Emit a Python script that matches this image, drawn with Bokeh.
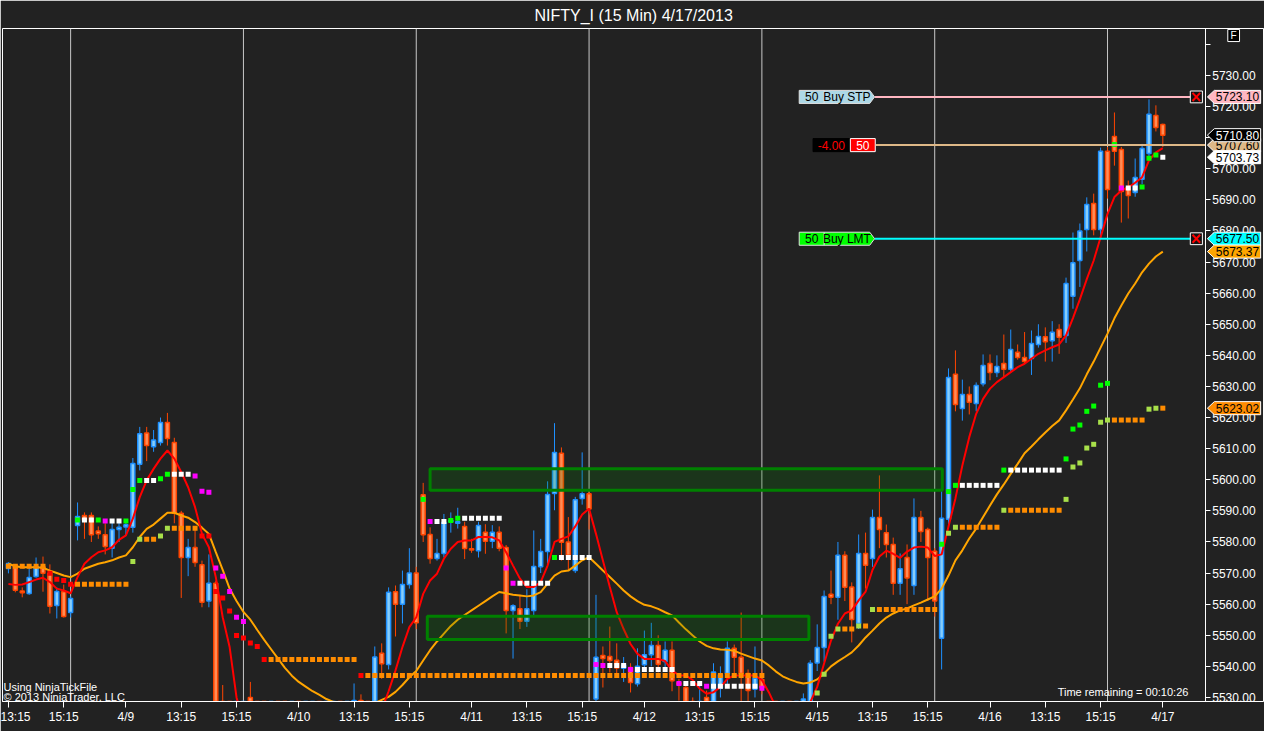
from bokeh.plotting import figure
from bokeh.models import Range1d, FixedTicker, NumeralTickFormatter, Span, Label, ColumnDataSource
from bokeh.embed import file_html
from bokeh.resources import INLINE
from bokeh.core.properties import value

TITLE = "NIFTY_I (15 Min)  4/17/2013"

# ---------------- data: 15-minute bars, 4/8 13:15 ... 4/17 11:15 ----------------
OPEN = [5571.5, 5572.4, 5564.2, 5563.4, 5568.9, 5572.0, 5569.9, 5559.6, 5564.0, 5557.3,
        5585.3, 5588.5, 5588.5, 5583.5, 5582.3, 5578.0, 5584.0, 5584.8, 5584.7, 5605.0,
        5615.0, 5610.6, 5612.0, 5618.4, 5612.0, 5589.2, 5575.0, 5578.2, 5572.7, 5561.0,
        5566.7, 5514.0, 5510.0, 5506.0, 5514.0, 5530.0, 5524.0, 5515.0, 5511.0, 5516.0,
        5513.0, 5509.0, 5512.0, 5510.0, 5514.0, 5518.0, 5515.0, 5517.0, 5520.0, 5516.0,
        5521.0, 5529.0, 5524.0, 5519.0, 5544.2, 5540.6, 5564.0, 5560.0, 5566.3, 5570.0,
        5595.2, 5582.4, 5574.7, 5576.3, 5586.5, 5586.0, 5585.0, 5577.8, 5577.2, 5583.1,
        5580.2, 5583.1, 5578.2, 5558.0, 5558.5, 5554.5, 5558.0, 5572.0, 5576.9, 5595.6,
        5608.5, 5580.0, 5570.8, 5594.0, 5595.5, 5529.5, 5543.5, 5543.2, 5542.0, 5539.4,
        5539.6, 5534.4, 5540.5, 5543.7, 5546.7, 5541.6, 5545.2, 5534.8, 5533.2, 5527.5,
        5518.0, 5530.0, 5526.0, 5533.0, 5537.7, 5545.8, 5542.9, 5537.7, 5532.6, 5535.8,
        5524.0, 5514.0, 5510.0, 5515.0, 5512.0, 5522.0, 5527.0, 5541.1, 5546.1, 5563.2,
        5562.2, 5575.7, 5565.5, 5553.8, 5576.3, 5574.7, 5587.9, 5583.0, 5579.2, 5566.7,
        5575.0, 5566.0, 5587.9, 5584.0, 5577.0, 5549.0, 5587.3, 5633.9, 5622.9, 5627.4,
        5624.5, 5630.9, 5637.4, 5634.5, 5637.4, 5635.5, 5641.0, 5639.3, 5639.0, 5643.5,
        5646.0, 5644.7, 5648.3, 5646.4, 5659.0, 5670.5, 5680.5, 5688.8, 5680.5, 5705.6,
        5710.4, 5706.2, 5694.0, 5692.4, 5696.6, 5704.9, 5717.1, 5714.2]
HIGH = [5573.5, 5572.8, 5565.4, 5571.8, 5575.0, 5575.3, 5572.8, 5565.4, 5566.3, 5562.5,
        5592.7, 5589.5, 5589.5, 5585.0, 5586.0, 5587.0, 5587.0, 5587.0, 5607.0, 5617.0,
        5617.0, 5616.0, 5620.0, 5621.5, 5613.5, 5590.0, 5581.0, 5584.0, 5574.0, 5576.0,
        5567.5, 5534.0, 5518.0, 5520.0, 5522.0, 5535.0, 5526.0, 5520.0, 5518.0, 5522.0,
        5519.0, 5515.0, 5518.0, 5516.0, 5521.0, 5524.0, 5520.0, 5523.0, 5525.0, 5524.0,
        5534.5, 5531.0, 5526.0, 5546.4, 5547.4, 5565.4, 5566.0, 5570.8, 5578.0, 5572.0,
        5599.0, 5584.7, 5581.0, 5589.0, 5589.5, 5591.0, 5586.5, 5581.0, 5586.5, 5585.7,
        5585.4, 5585.0, 5579.0, 5560.0, 5563.0, 5564.8, 5583.7, 5581.0, 5599.5, 5618.2,
        5610.4, 5588.0, 5594.5, 5608.8, 5597.0, 5563.0, 5546.4, 5552.8, 5547.4, 5543.0,
        5541.0, 5545.8, 5551.5, 5554.0, 5550.0, 5548.0, 5548.0, 5536.0, 5535.0, 5530.0,
        5534.0, 5532.2, 5541.0, 5540.0, 5548.0, 5547.0, 5557.3, 5539.0, 5546.4, 5539.0,
        5526.0, 5522.0, 5518.0, 5521.0, 5524.0, 5531.3, 5542.0, 5553.5, 5564.4, 5570.8,
        5580.0, 5577.0, 5567.0, 5582.4, 5583.0, 5590.4, 5601.4, 5585.6, 5581.4, 5576.3,
        5579.2, 5594.0, 5590.0, 5584.6, 5578.0, 5596.5, 5635.8, 5641.6, 5632.2, 5630.0,
        5631.3, 5640.3, 5640.3, 5640.0, 5646.7, 5648.3, 5643.5, 5647.5, 5648.0, 5650.0,
        5649.0, 5651.0, 5650.0, 5665.0, 5679.5, 5682.4, 5690.8, 5692.0, 5706.8, 5707.0,
        5718.1, 5707.0, 5696.2, 5703.3, 5708.0, 5722.3, 5720.4, 5714.5]
LOW = [5569.9, 5563.8, 5562.2, 5563.0, 5568.5, 5564.0, 5557.0, 5555.4, 5555.7, 5555.7,
       5580.5, 5581.0, 5580.0, 5581.0, 5576.0, 5575.0, 5580.0, 5582.0, 5583.0, 5603.0,
       5606.0, 5609.0, 5611.0, 5611.0, 5586.0, 5562.0, 5569.0, 5572.0, 5559.0, 5559.0,
       5510.0, 5505.0, 5500.0, 5502.0, 5508.0, 5522.0, 5512.0, 5508.0, 5505.0, 5510.0,
       5506.0, 5503.0, 5507.0, 5504.0, 5510.0, 5512.0, 5509.0, 5512.0, 5514.0, 5512.0,
       5516.0, 5518.0, 5514.0, 5515.0, 5536.0, 5539.0, 5549.6, 5553.8, 5565.0, 5552.0,
       5580.0, 5573.0, 5574.0, 5575.0, 5583.0, 5584.3, 5574.5, 5576.5, 5575.0, 5576.2,
       5578.0, 5577.0, 5550.6, 5542.5, 5552.0, 5552.7, 5556.0, 5570.0, 5573.0, 5590.2,
       5574.0, 5571.0, 5570.0, 5592.0, 5584.0, 5527.0, 5533.2, 5538.0, 5537.7, 5535.0,
       5531.6, 5533.5, 5539.5, 5540.0, 5538.0, 5539.0, 5532.0, 5529.0, 5524.0, 5520.0,
       5514.0, 5522.0, 5520.0, 5530.0, 5533.0, 5537.0, 5528.0, 5528.0, 5530.0, 5531.0,
       5510.0, 5506.0, 5503.0, 5508.0, 5510.0, 5518.0, 5524.0, 5538.5, 5541.5, 5560.0,
       5555.0, 5561.0, 5547.7, 5552.0, 5565.0, 5572.0, 5578.0, 5575.0, 5563.0, 5563.0,
       5560.0, 5563.0, 5580.0, 5561.0, 5556.0, 5539.0, 5585.0, 5622.0, 5619.0, 5621.0,
       5622.0, 5630.0, 5632.0, 5633.0, 5633.0, 5634.5, 5638.6, 5637.5, 5633.7, 5642.5,
       5638.0, 5638.0, 5640.5, 5644.0, 5655.0, 5662.0, 5673.4, 5678.6, 5678.0, 5690.4,
       5701.0, 5682.7, 5684.0, 5691.0, 5695.0, 5704.0, 5712.0, 5707.0]
CLOSE = [5573.1, 5564.5, 5563.7, 5568.6, 5572.1, 5569.9, 5559.3, 5564.1, 5556.0, 5561.8,
         5588.2, 5587.0, 5582.3, 5582.6, 5578.5, 5584.0, 5584.7, 5585.5, 5605.2, 5614.8,
         5611.0, 5612.8, 5618.4, 5613.3, 5589.2, 5575.0, 5578.2, 5573.4, 5560.6, 5566.7,
         5514.0, 5510.0, 5506.0, 5514.0, 5518.0, 5528.0, 5515.0, 5511.0, 5516.0, 5513.0,
         5509.0, 5512.0, 5510.0, 5514.0, 5518.0, 5515.0, 5517.0, 5520.0, 5516.0, 5521.0,
         5529.0, 5524.0, 5519.0, 5543.0, 5540.8, 5563.8, 5560.0, 5566.3, 5570.0, 5554.0,
         5582.3, 5574.7, 5576.3, 5586.3, 5587.0, 5586.5, 5577.9, 5577.4, 5585.3, 5580.2,
         5583.1, 5578.0, 5558.0, 5559.5, 5554.5, 5558.5, 5572.1, 5576.9, 5595.3, 5608.8,
         5579.9, 5575.7, 5593.6, 5595.5, 5590.6, 5542.9, 5542.5, 5541.9, 5539.5, 5540.4,
         5534.8, 5540.0, 5543.7, 5546.7, 5540.7, 5545.2, 5535.4, 5534.2, 5527.0, 5526.0,
         5525.0, 5526.0, 5538.2, 5537.3, 5545.8, 5542.9, 5537.7, 5532.2, 5536.2, 5533.2,
         5514.0, 5510.0, 5515.0, 5512.0, 5522.0, 5529.5, 5541.0, 5546.1, 5562.5, 5562.2,
         5575.7, 5565.4, 5555.1, 5576.3, 5572.5, 5587.9, 5584.0, 5579.2, 5566.7, 5571.4,
         5568.4, 5587.9, 5583.4, 5575.0, 5561.0, 5587.6, 5632.9, 5624.2, 5627.4, 5624.9,
         5630.3, 5636.7, 5634.5, 5636.4, 5635.5, 5641.9, 5639.3, 5638.0, 5643.8, 5646.1,
         5644.4, 5647.4, 5645.8, 5663.1, 5669.8, 5680.0, 5688.5, 5680.5, 5705.6, 5693.3,
         5705.6, 5692.7, 5691.4, 5697.2, 5706.5, 5717.5, 5713.3, 5710.8]

FAST_MA = [5566.5, 5566.2, 5566.3, 5567.1, 5567.9, 5568.5, 5567.1, 5565.0, 5564.4, 5563.5,
           5568.7, 5573.0, 5575.1, 5576.7, 5577.3, 5578.3, 5580.7, 5582.1, 5587.5, 5594.4,
           5599.8, 5603.5, 5606.8, 5609.4, 5606.8, 5602.5, 5597.6, 5591.2, 5582.6, 5578.3,
           5568.7, 5555.8, 5546.2, 5530.0, 5522.0, 5518.0, 5516.0, 5514.0, 5514.0, 5514.0,
           5512.0, 5512.0, 5511.0, 5512.0, 5514.0, 5515.0, 5515.0, 5516.0, 5517.0, 5517.0,
           5519.0, 5521.0, 5520.0, 5524.0, 5526.0, 5532.0, 5538.7, 5546.2, 5552.6, 5555.8,
           5563.3, 5567.6, 5569.8, 5574.6, 5577.8, 5580.0, 5580.5, 5580.5, 5581.6, 5581.6,
           5581.5, 5580.5, 5576.7, 5572.4, 5568.2, 5565.5, 5565.5, 5567.1, 5572.4, 5580.0,
           5581.0, 5581.8, 5585.0, 5588.8, 5590.7, 5582.6, 5574.0, 5565.5, 5557.4, 5552.0,
           5547.2, 5544.0, 5542.4, 5542.4, 5542.4, 5541.7, 5538.7, 5537.1, 5537.1, 5535.6,
           5532.8, 5531.2, 5531.7, 5533.3, 5536.0, 5537.1, 5537.1, 5537.1, 5537.1, 5535.6,
           5531.7, 5527.0, 5524.0, 5523.0, 5524.0, 5526.5, 5528.5, 5533.4, 5540.9, 5548.3,
           5553.7, 5557.0, 5558.0, 5561.2, 5564.0, 5571.0, 5575.3, 5577.2, 5576.2, 5574.9,
           5576.9, 5578.2, 5578.5, 5578.2, 5575.5, 5576.0, 5585.0, 5594.0, 5604.6, 5613.7,
           5621.2, 5626.0, 5629.3, 5631.4, 5633.0, 5634.6, 5636.2, 5637.3, 5638.9, 5640.5,
           5641.6, 5642.6, 5643.5, 5646.4, 5652.0, 5658.0, 5664.5, 5670.5, 5678.0, 5685.5,
           5690.9, 5693.0, 5694.0, 5695.5, 5697.3, 5702.7, 5705.3, 5706.6]
SLOW_MA = [5573.0, 5572.2, 5571.9, 5571.9, 5571.9, 5571.7, 5570.8, 5570.0, 5569.2, 5568.7,
           5569.8, 5571.4, 5572.2, 5573.0, 5573.5, 5574.1, 5575.0, 5575.7, 5578.3, 5581.6,
           5584.2, 5585.6, 5587.5, 5589.4, 5589.4, 5588.5, 5587.8, 5586.4, 5584.6, 5582.6,
           5576.7, 5571.0, 5565.0, 5561.0, 5557.5, 5555.0, 5551.7, 5548.5, 5545.5, 5542.5,
           5539.5, 5537.0, 5535.0, 5533.5, 5532.0, 5530.8, 5529.5, 5528.6, 5528.0, 5527.6,
           5527.4, 5527.4, 5527.6, 5528.2, 5529.2, 5530.2, 5531.8, 5534.0, 5536.5, 5538.5,
           5541.9, 5545.2, 5548.0, 5550.5, 5553.0, 5555.0, 5556.5, 5558.0, 5559.5, 5561.0,
           5562.5, 5563.9, 5563.5, 5563.0, 5562.8, 5562.5, 5562.8, 5563.9, 5566.6, 5569.2,
           5570.5, 5570.8, 5572.4, 5574.1, 5575.1, 5573.0, 5570.8, 5568.7, 5566.6, 5564.4,
           5562.5, 5561.0, 5559.8, 5559.3, 5558.5, 5557.4, 5556.4, 5554.1, 5551.9, 5549.9,
           5548.0, 5546.6, 5545.8, 5545.4, 5545.3, 5545.0, 5544.1, 5543.3, 5542.5, 5541.9,
           5540.3, 5538.4, 5536.8, 5535.8, 5535.0, 5534.5, 5534.8, 5535.8, 5537.7, 5540.0,
           5541.6, 5543.0, 5544.5, 5546.7, 5549.3, 5551.5, 5553.8, 5555.7, 5557.0, 5558.0,
           5558.6, 5559.6, 5560.5, 5561.5, 5562.5, 5565.0, 5569.2, 5574.1, 5577.3, 5581.1,
           5584.3, 5588.0, 5591.7, 5595.3, 5598.5, 5601.9, 5605.1, 5608.5, 5610.7, 5613.0,
           5615.2, 5617.3, 5619.1, 5622.3, 5625.8, 5629.4, 5633.9, 5638.0, 5642.5, 5647.0,
           5651.9, 5656.0, 5659.9, 5663.1, 5666.7, 5669.5, 5671.8, 5673.37]

# indicator dots: (bar, price)
GREEN_BARS = [10, 13, 17, 18, 19, 22, 23, 60, 64, 65, 79, 135, 136, 137, 144, 153, 154, 155, 156, 157, 158, 159, 160, 164, 165, 166]
GREEN_VALS = [5587.1, 5587.1, 5586.7, 5596.9, 5599.8, 5600.3, 5601.8, 5593.7, 5586.9, 5587.6, 5575.0, 5579.3, 5596.2, 5598.2,
              5603.1, 5606.7, 5616.3, 5617.6, 5622.0, 5623.7, 5630.4, 5631.0, 5707.8, 5694.1, 5703.4, 5704.4]
LIME_BARS = [18, 19, 22, 23, 117, 118, 119, 120, 123, 125, 136, 137, 144, 153, 154, 155, 156, 157, 158, 159, 165, 166]
LIME_VALS = [5573.7, 5580.9, 5581.9, 5584.4, 5531.4, 5537.5, 5549.7, 5552.0, 5553.0, 5558.3, 5582.8, 5584.7, 5590.2,
             5593.7, 5604.1, 5605.4, 5610.2, 5611.4, 5618.5, 5619.2, 5622.7, 5623.0]
RED_BARS = [6, 7, 8, 9, 28, 29, 30, 31, 32, 33, 34, 35, 36, 37, 51]
RED_VALS = [5569.9, 5568.0, 5567.6, 5566.4, 5581.9, 5581.9, 5564.1, 5562.0, 5557.8, 5549.9, 5549.1, 5547.5, 5546.4, 5542.2, 5537.1]
MAGENTA_BARS = [14, 27, 28, 29, 30, 31, 32, 33, 34, 61, 72, 73, 85, 86, 90, 97, 101, 109, 161]
MAGENTA_VALS = [5586.7, 5601.2, 5596.3, 5596.0, 5571.6, 5569.0, 5564.1, 5555.8, 5554.4, 5586.6, 5571.6, 5566.7,
                5540.6, 5540.3, 5539.0, 5534.5, 5533.6, 5533.0, 5693.8]
# dotted levels: (first bar, last bar, price)
WHITE_LEVELS = [(11, 12, 5587.1), (15, 16, 5586.7), (20, 21, 5599.8), (24, 26, 5601.8), (62, 63, 5586.6),
                (66, 71, 5587.6), (74, 78, 5566.7), (80, 84, 5575.0), (87, 89, 5540.3), (91, 96, 5539.0),
                (98, 100, 5534.5), (102, 108, 5533.6), (138, 143, 5598.2), (145, 152, 5603.1),
                (162, 163, 5693.8), (167, 167, 5703.73)]
ORANGE_LEVELS = [(0, 5, 5572.2), (10, 17, 5566.4), (20, 21, 5580.9), (24, 27, 5584.4), (38, 50, 5542.2),
                 (52, 109, 5537.1), (121, 122, 5552.0), (124, 124, 5553.0), (126, 134, 5558.3),
                 (138, 143, 5584.7), (145, 152, 5590.2), (160, 164, 5619.2), (167, 167, 5623.02)]

# drawn zones: (left bar, right bar, top, bottom)
ZONES = [(61.0, 135.1, 5603.5, 5596.6), (60.6, 115.8, 5556.1, 5548.6)]

X_TICKS = [0, 8, 17, 25, 33, 42, 50, 58, 67, 75, 83, 92, 100, 108, 117, 125, 133, 142, 150, 158, 167]
X_TICK_LABELS = ["13:15", "15:15", "4/9", "13:15", "15:15", "4/10", "13:15", "15:15", "4/11", "13:15", "15:15",
                 "4/12", "13:15", "15:15", "4/15", "13:15", "15:15", "4/16", "13:15", "15:15", "4/17"]
SESSION_END_BARS = [9, 34, 59, 84, 109, 134, 159]
PRICE_TICKS = [5530, 5540, 5550, 5560, 5570, 5580, 5590, 5600, 5610, 5620, 5630, 5640,
               5650, 5660, 5670, 5680, 5690, 5700, 5710, 5720, 5730, 5740]

STOP_PRICE = 5723.10
LIMIT_PRICE = 5677.50
POSITION_PRICE = 5707.60
POSITION_QTY = 50
POSITION_PNL = "-4.00"
LAST_PRICE = CLOSE[-1]
TIME_REMAINING = "00:10:26"

# ---------------- figure ----------------
BG = "#222222"
FONT = "Liberation Sans"
X0, X1 = -0.857, 181.71      # frame spans the whole canvas width, price scale drawn inside it
AXIS_X = 173.14              # bar coordinate of the price-scale line
Y0, Y1 = 5528.7, 5745.1

p = figure(width=1264, height=731, output_backend="svg", toolbar_location=None,
           x_range=Range1d(X0, X1), y_range=Range1d(Y0, Y1), y_axis_location="right",
           background_fill_color=BG, border_fill_color=BG,
           min_border_left=2, min_border_right=0, min_border_top=28, min_border_bottom=30)
p.title.text = TITLE
p.title.align = "left"
p.title.offset = 532
p.title.vertical_align = "top"
p.title.text_color = "white"
p.title.text_font = FONT
p.title.text_font_size = "16px"
p.title.text_font_style = "normal"
p.title.standoff = 6
p.xgrid.visible = False
p.ygrid.visible = False
p.outline_line_color = "white"
p.outline_line_width = 1

for ax in (p.xaxis[0], p.yaxis[0]):
    ax.axis_line_color = "white"
    ax.major_tick_line_color = "white"
    ax.minor_tick_line_color = None
    ax.major_tick_in = 0
    ax.major_label_text_color = "white"
    ax.major_label_text_font = FONT
    ax.major_label_text_font_size = "12px"
p.xaxis[0].major_tick_out = 6
p.xaxis[0].major_label_standoff = 2
p.xaxis[0].bounds = (X0, AXIS_X)
p.xaxis[0].ticker = FixedTicker(ticks=X_TICKS)
p.xaxis[0].major_label_overrides = {t: l for t, l in zip(X_TICKS, X_TICK_LABELS)}
p.yaxis[0].fixed_location = AXIS_X
p.yaxis[0].major_tick_out = 5
p.yaxis[0].major_label_standoff = 2
p.yaxis[0].ticker = FixedTicker(ticks=PRICE_TICKS)
p.yaxis[0].formatter = NumeralTickFormatter(format="0.00")
p.yaxis[0].major_label_overrides = {5740: ""}

for b in SESSION_END_BARS:
    p.add_layout(Span(location=b, dimension="height", line_color="#C8C8C8", line_width=1, level="underlay"))

# candles
up = [i for i in range(len(OPEN)) if CLOSE[i] >= OPEN[i]]
dn = [i for i in range(len(OPEN)) if CLOSE[i] < OPEN[i]]
for ids, fill, line in ((up, "#87CEFA", "#1E90FF"), (dn, "#FF8C55", "#FF4500")):
    src = ColumnDataSource(dict(x=ids,
                                top=[max(OPEN[i], CLOSE[i]) for i in ids],
                                bottom=[min(OPEN[i], CLOSE[i]) for i in ids],
                                high=[HIGH[i] for i in ids], low=[LOW[i] for i in ids]))
    p.segment(x0="x", y0="low", x1="x", y1="high", source=src, line_color=line, line_width=1)
    p.vbar(x="x", width=0.58, top="top", bottom="bottom", source=src,
           fill_color=fill, line_color=line, line_width=1.5)

bars = list(range(len(OPEN)))
p.line(bars, SLOW_MA, line_color="#FFA500", line_width=2)
p.line(bars, FAST_MA, line_color="#FF0000", line_width=2)


def level_points(levels):
    xs, ys = [], []
    for a, b, v in levels:
        for i in range(a, b + 1):
            xs.append(i)
            ys.append(v)
    return xs, ys


ox, oy = level_points(ORANGE_LEVELS)
wx, wy = level_points(WHITE_LEVELS)
for xs, ys, col in ((ox, oy, "#FF8C00"), (wx, wy, "#FFFFFF"), (GREEN_BARS, GREEN_VALS, "#00FF00"),
                    (LIME_BARS, LIME_VALS, "#A8E04A"), (RED_BARS, RED_VALS, "#FF0000"),
                    (MAGENTA_BARS, MAGENTA_VALS, "#FF00FF")):
    p.scatter(xs, ys, marker="square", size=5, fill_color=col, line_color=None)

# zones
p.quad(left=[z[0] for z in ZONES], right=[z[1] for z in ZONES], top=[z[2] for z in ZONES],
       bottom=[z[3] for z in ZONES], fill_color="#008000", fill_alpha=0.2, line_color="#008000", line_width=3)

# order lines and tags
H = 2.1  # half tag height in price units
TAG_L, TAG_SPLIT, TAG_R, TAG_TIP = 114.4, 118.0, 124.6, 125.3
XBOX_C, XBOX_W = 171.85, 1.75
p.segment(x0=[TAG_TIP, TAG_TIP], y0=[STOP_PRICE, LIMIT_PRICE], x1=[XBOX_C - XBOX_W / 2] * 2,
          y1=[STOP_PRICE, LIMIT_PRICE], line_color=["#FFB6C1", "#00FFFF"], line_width=2)
p.segment(x0=[125.5], y0=[POSITION_PRICE], x1=[AXIS_X], y1=[POSITION_PRICE], line_color="#DEB887", line_width=2)
for price, fill, label in ((STOP_PRICE, "#ADD8E6", "Buy STP"), (LIMIT_PRICE, "#00FF00", "Buy LMT")):
    p.patch([TAG_L, TAG_R, TAG_TIP, TAG_R, TAG_L], [price + H, price + H, price, price - H, price - H],
            fill_color=fill, line_color="#E0E0E0", line_width=1)
    p.segment(x0=[TAG_SPLIT], y0=[price - H], x1=[TAG_SPLIT], y1=[price + H], line_color="#E0E0E0", line_width=1)
    p.text(x=[(TAG_L + TAG_SPLIT) / 2, (TAG_SPLIT + TAG_R) / 2], y=[price, price], text=[str(POSITION_QTY), label],
           text_color="black", text_font=value(FONT), text_font_size="12px", text_align="center",
           text_baseline="middle")
    p.quad(left=[XBOX_C - XBOX_W / 2], right=[XBOX_C + XBOX_W / 2], top=[price + 1.9], bottom=[price - 1.9],
           fill_color="#111111", line_color="white", line_width=1)
    p.segment(x0=[XBOX_C - 0.55, XBOX_C - 0.55], y0=[price - 1.3, price + 1.3], x1=[XBOX_C + 0.55, XBOX_C + 0.55],
              y1=[price + 1.3, price - 1.3], line_color="#FF0000", line_width=2)
p.quad(left=[116.4], right=[121.7], top=[POSITION_PRICE + H], bottom=[POSITION_PRICE - H],
       fill_color="black", line_color="black")
p.quad(left=[121.8], right=[125.4], top=[POSITION_PRICE + H], bottom=[POSITION_PRICE - H],
       fill_color="#FF0000", line_color="white", line_width=1)
p.text(x=[119.05], y=[POSITION_PRICE], text=[POSITION_PNL], text_color="#FF0000", text_font=value(FONT),
       text_font_size="12px", text_align="center", text_baseline="middle")
p.text(x=[123.6], y=[POSITION_PRICE], text=[str(POSITION_QTY)], text_color="white", text_font=value(FONT),
       text_font_size="12px", text_align="center", text_baseline="middle")

# price markers on the price scale (drawn above the scale labels)
MK_TIP, MK_L, MK_R = 173.45, 174.45, 181.15
markers = [(POSITION_PRICE, "#DEB887", "black"), (LAST_PRICE, "black", "white"),
           (WHITE_LEVELS[-1][2], "white", "black"), (STOP_PRICE, "#FFB6C1", "black"),
           (LIMIT_PRICE, "#00FFFF", "black"), (SLOW_MA[-1], "#FFA500", "black"),
           (ORANGE_LEVELS[-1][2], "#FF8C00", "black")]
for price, bg, fg in markers:
    p.patch([MK_TIP, MK_L, MK_R, MK_R, MK_L], [price, price + H, price + H, price - H, price - H],
            fill_color=bg, line_color="white", line_width=1, level="annotation")
    p.text(x=[(MK_L + MK_R) / 2], y=[price], text=[f"{price:.2f}"], text_color=fg, text_font=value(FONT),
           text_font_size="12px", text_align="center", text_baseline="middle", level="annotation")

# "F" button
p.quad(left=[176.4], right=[178.1], top=[5744.8], bottom=[5740.9], fill_color="black", line_color="white",
       line_width=1, level="annotation")
p.text(x=[177.25], y=[5742.85], text=["F"], text_color="white", text_font=value(FONT), text_font_size="10px",
       text_align="center", text_baseline="middle", level="annotation")

# texts
p.add_layout(Label(x=1, y=15, x_units="screen", y_units="screen", text="Using NinjaTickFile", text_color="white",
                   text_font=FONT, text_font_size="11px", text_baseline="middle"))
p.add_layout(Label(x=1, y=5, x_units="screen", y_units="screen", text="\u00a9 2013 NinjaTrader, LLC",
                   text_color="white", text_font=FONT, text_font_size="11px", text_baseline="middle"))
p.add_layout(Label(x=170.7, y=10, x_units="data", y_units="screen",
                   text="Time remaining = " + TIME_REMAINING, text_color="white", text_font=FONT,
                   text_font_size="11px", text_align="right", text_baseline="middle"))

open("out.html", "w").write(file_html(p, INLINE))
